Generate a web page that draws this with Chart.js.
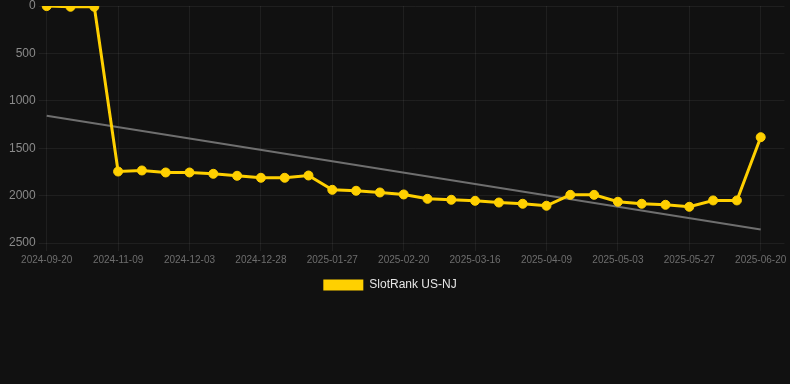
<!DOCTYPE html>
<html>
<head>
<meta charset="utf-8">
<script src="https://cdn.jsdelivr.net/npm/chart.js@4"></script>
<style>
    html, body { margin: 0; padding: 0; background: #111111; overflow: hidden; }
    #wrap { width: 790px; height: 304px; position: relative; margin-top: -3px; }
</style>
</head>
<body>
<div id="wrap"><canvas id="rankChart"></canvas></div>
<script>
// x categories (last one is an empty slot past the final reading)
const dates = [
    '2024-09-20', '2024-10-07', '2024-10-24', '2024-11-09', '2024-11-17', '2024-11-25',
    '2024-12-03', '2024-12-11', '2024-12-19', '2024-12-28', '2025-01-07', '2025-01-17',
    '2025-01-27', '2025-02-04', '2025-02-12', '2025-02-20', '2025-02-28', '2025-03-08',
    '2025-03-16', '2025-03-24', '2025-04-01', '2025-04-09', '2025-04-17', '2025-04-25',
    '2025-05-03', '2025-05-11', '2025-05-19', '2025-05-27', '2025-06-04', '2025-06-12',
    '2025-06-20', '2025-06-28'
];

const rankValues = [
    1, 8, 8, 1746, 1735, 1756, 1756, 1770, 1791, 1812, 1812, 1788,
    1939, 1949, 1967, 1988, 2034, 2044, 2055, 2073, 2086, 2107, 1992, 1992,
    2065, 2086, 2097, 2118, 2051, 2051, 1384
];

// trend line end points (first and last reading)
const trendStart = 1157;
const trendEnd = 2358;

const yTicks = [0, 500, 1000, 1500, 2000, 2500];

const trendData = dates.map(() => null);
trendData[0] = trendStart;
trendData[rankValues.length - 1] = trendEnd;

const font = 'Liberation Sans, Arial, sans-serif';
const ctx = document.getElementById('rankChart').getContext('2d');

// nudge the legend a little to the left, like the original
const legendNudge = {
    id: 'legendNudge',
    afterLayout: function(c) {
        c.legend.right -= 16;
    }
};

const chart = new Chart(ctx, {
    type: 'line',
    data: {
        labels: dates,
        datasets: [{
            label: 'SlotRank US-NJ',
            data: rankValues,
            borderColor: '#ffd000',
            backgroundColor: '#ffd000',
            borderWidth: 3,
            pointRadius: 4.5,
            pointHoverRadius: 4.5,
            pointBorderWidth: 1,
            pointBackgroundColor: '#ffd000',
            pointBorderColor: '#ffd000',
            tension: 0
        }, {
            label: 'trend',
            data: trendData,
            borderColor: '#6f6f6f',
            borderWidth: 2,
            pointRadius: 0,
            spanGaps: true,
            tension: 0
        }]
    },
    options: {
        responsive: true,
        maintainAspectRatio: false,
        animation: false,
        layout: { padding: { left: 6, right: 0, top: 0 } },
        plugins: {
            legend: {
                position: 'bottom',
                labels: {
                    color: '#e6e6e6',
                    boxWidth: 40,
                    boxHeight: 11,
                    font: { family: font, size: 12 },
                    filter: item => item.datasetIndex === 0,
                    generateLabels: function(c) {
                        return Chart.defaults.plugins.legend.labels.generateLabels(c)
                            .map(item => Object.assign(item, { lineWidth: 0 }));
                    }
                }
            },
            tooltip: { enabled: false }
        },
        scales: {
            y: {
                reverse: true,
                min: yTicks[0],
                max: yTicks[yTicks.length - 1],
                ticks: {
                    stepSize: 500,
                    color: '#8a8a8a',
                    font: { family: font, size: 12, lineHeight: 1 },
                    callback: value => String(value)
                },
                grid: { color: 'rgba(255,255,255,0.06)' },
                border: { display: false }
            },
            x: {
                afterFit: scale => { scale.paddingRight = 4; },
                ticks: {
                    color: '#6e6e6e',
                    maxRotation: 0,
                    autoSkip: true,
                    font: { family: font, size: 10 }
                },
                grid: { color: 'rgba(255,255,255,0.06)' },
                border: { display: false }
            }
        }
    },
    plugins: [legendNudge]
});
</script>
</body>
</html>
